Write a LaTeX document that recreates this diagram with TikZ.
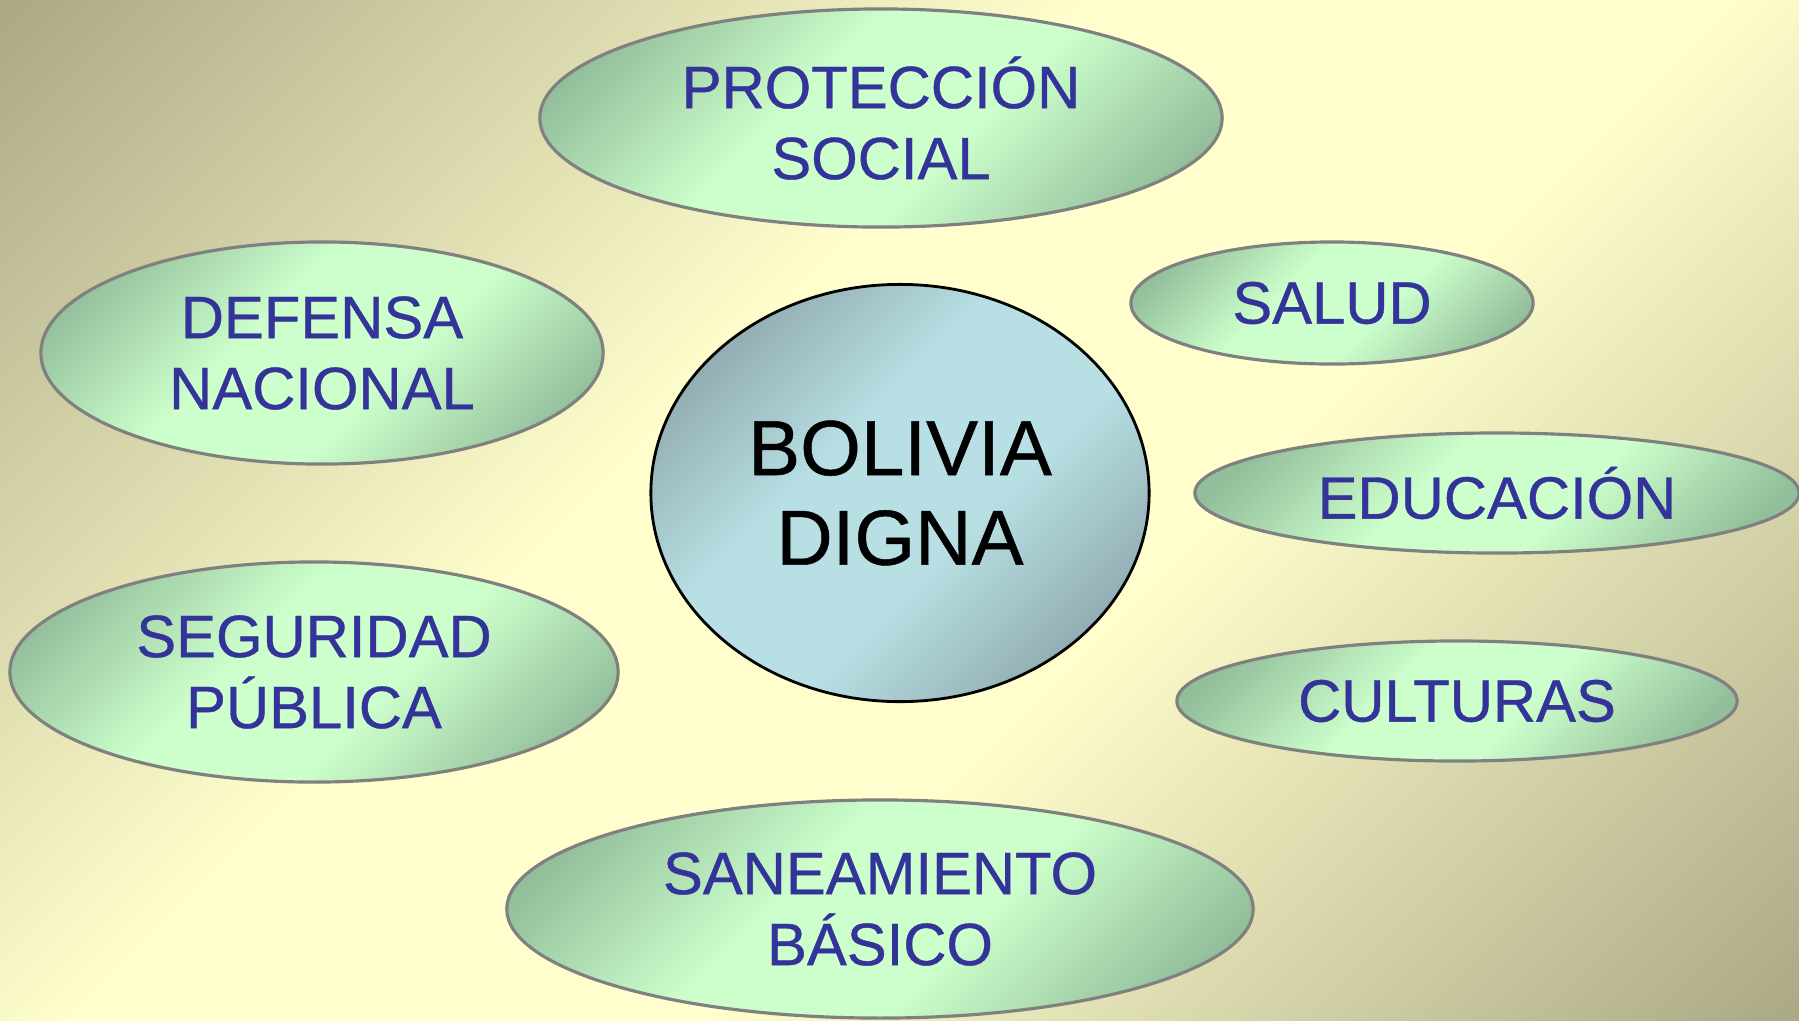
\documentclass[tikz,border=0pt]{standalone}
\usepackage{fontspec}
\setmainfont{Liberation Sans}
\newfontfamily\labelfont[FakeBold=0.6]{Liberation Sans}
\usetikzlibrary{shapes.geometric}

\definecolor{bgdark}{HTML}{A3A17F}
\definecolor{bglight}{HTML}{FFFECC}
\definecolor{leafdark}{HTML}{92BE9A}
\definecolor{leaflight}{HTML}{CCFFCC}
\definecolor{hubdark}{HTML}{8CA5AA}
\definecolor{hublight}{HTML}{B8E0E4}
\definecolor{labelblue}{HTML}{333399}

\pgfdeclareverticalshading{backdrop}{100bp}{color(0bp)=(bgdark); color(12bp)=(bgdark);
  color(42bp)=(bglight); color(58bp)=(bglight); color(88bp)=(bgdark); color(100bp)=(bgdark)}
\pgfdeclareverticalshading{leafband}{100bp}{color(0bp)=(leafdark); color(22bp)=(leafdark);
  color(42bp)=(leaflight); color(58bp)=(leaflight); color(78bp)=(leafdark); color(100bp)=(leafdark)}
\pgfdeclareverticalshading{hubband}{100bp}{color(0bp)=(hubdark); color(22bp)=(hubdark);
  color(42bp)=(hublight); color(58bp)=(hublight); color(78bp)=(hubdark); color(100bp)=(hubdark)}

\begin{document}
\begin{tikzpicture}[x=0.01cm, y=-0.01cm,
  theme/.style={ellipse, inner sep=0pt, align=center, draw=black!50, line width=0.9pt,
    shading=leafband, shading angle=45,
    text=labelblue, font=\labelfont\fontsize{17}{20.2}\selectfont},
  hub/.style={ellipse, inner sep=0pt, align=center, draw=black, line width=0.8pt,
    shading=hubband, shading angle=45,
    text=black, font=\labelfont\fontsize{22.2}{25.5}\selectfont}]
\useasboundingbox (0,0) rectangle (1799,1020);
\shade[shading=backdrop, shading angle=45] (0,0) rectangle (1799,1020);
\node[hub, minimum width=4.98cm, minimum height=4.17cm] (bolivia) at (900,493) {BOLIVIA\\DIGNA};
\foreach \nm/\cx/\cy/\ew/\eh/\txt in {
    prot/881/118/6.82/2.18/{PROTECCIÓN\\SOCIAL},
    def/322/353/5.62/2.22/{DEFENSA\\NACIONAL},
    seg/314/672/6.08/2.20/{SEGURIDAD\\PÚBLICA},
    san/880/909/7.46/2.18/{SANEAMIENTO\\BÁSICO},
    sal/1332/303/4.02/1.22/{SALUD},
    edu/1497/493/6.04/1.20/{EDUCACIÓN},
    cul/1457/701/5.60/1.20/{CULTURAS}}
  \node[theme, minimum width=\ew cm, minimum height=\eh cm] (\nm) at (\cx,\cy) {\txt};
\end{tikzpicture}
\end{document}
